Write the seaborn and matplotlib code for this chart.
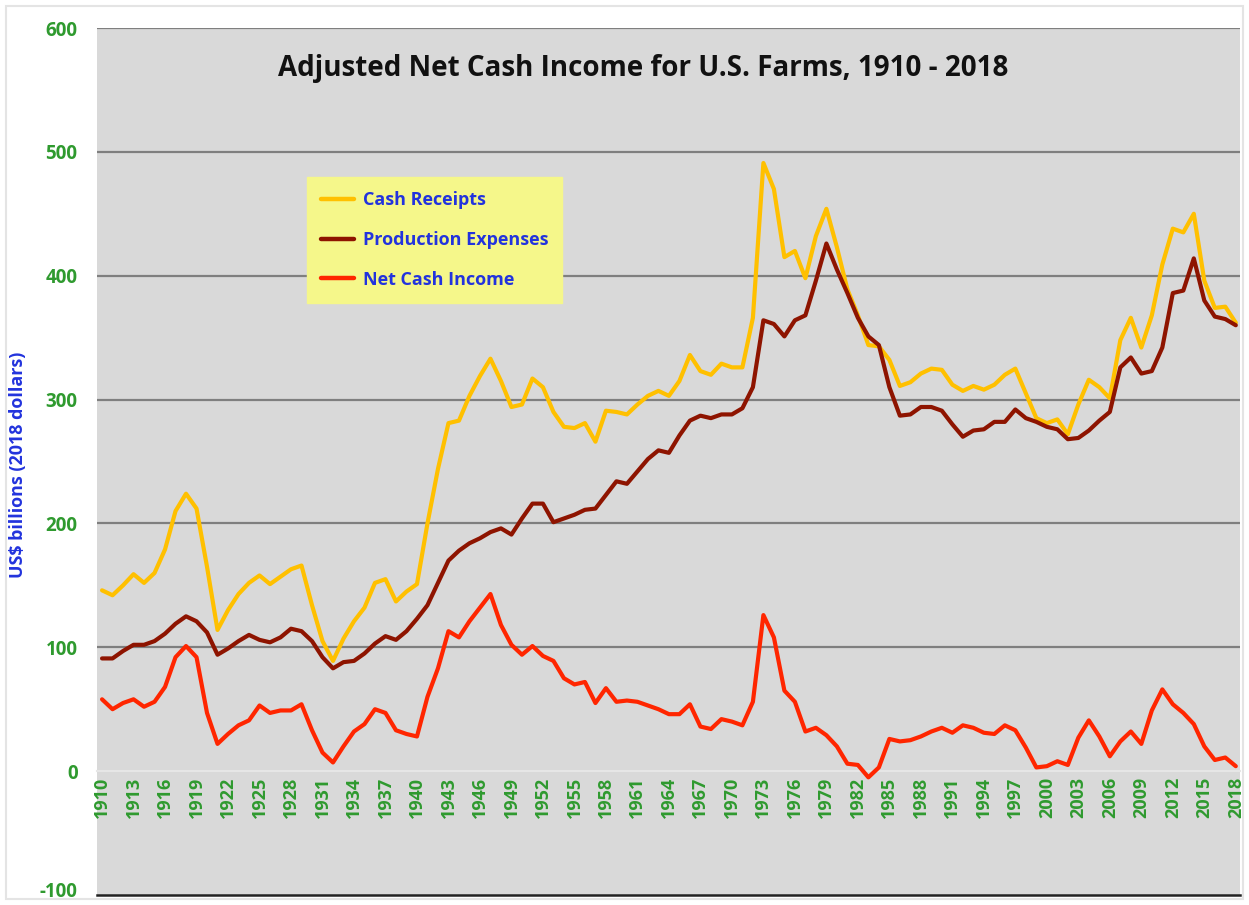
import numpy as np
import pandas as pd
import seaborn as sns
import matplotlib
matplotlib.use("Agg")
import matplotlib.pyplot as plt
import matplotlib.transforms as mtransforms
from matplotlib.lines import Line2D
from matplotlib.patches import Rectangle

years = list(range(1910, 2019))

cash_receipts = [
    146, 142, 150, 159, 152, 160, 179, 210, 224, 212,
    165, 114, 130, 143, 152, 158, 151, 157, 163, 166,
    134, 105, 89, 107, 121, 132, 152, 155, 137, 145,
    151, 200, 244, 281, 283, 303, 319, 333, 315, 294,
    296, 317, 310, 290, 278, 277, 281, 266, 291, 290,
    288, 296, 303, 307, 303, 315, 336, 323, 320, 329,
    326, 326, 366, 491, 470, 415, 420, 398, 432, 454,
    423, 389, 368, 344, 343, 332, 311, 314, 321, 325,
    324, 312, 307, 311, 308, 312, 320, 325, 305, 285,
    281, 284, 272, 296, 316, 310, 301, 348, 366, 342,
    368, 409, 438, 435, 450, 396, 374, 375, 362,
]

production_expenses = [
    91, 91, 97, 102, 102, 105, 111, 119, 125, 121,
    112, 94, 99, 105, 110, 106, 104, 108, 115, 113,
    105, 92, 83, 88, 89, 95, 103, 109, 106, 113,
    123, 134, 152, 170, 178, 184, 188, 193, 196, 191,
    204, 216, 216, 201, 204, 207, 211, 212, 223, 234,
    232, 242, 252, 259, 257, 271, 283, 287, 285, 288,
    288, 293, 310, 364, 361, 351, 364, 368, 396, 426,
    405, 386, 366, 351, 344, 310, 287, 288, 294, 294,
    291, 280, 270, 275, 276, 282, 282, 292, 285, 282,
    278, 276, 268, 269, 275, 283, 290, 326, 334, 321,
    323, 342, 386, 388, 414, 380, 367, 365, 360,
]

net_cash_income = [
    58, 50, 55, 58, 52, 56, 68, 92, 101, 92,
    47, 22, 30, 37, 41, 53, 47, 49, 49, 54,
    33, 15, 7, 20, 32, 38, 50, 47, 33, 30,
    28, 60, 83, 113, 108, 121, 132, 143, 118, 102,
    94, 101, 93, 89, 75, 70, 72, 55, 67, 56,
    57, 56, 53, 50, 46, 46, 54, 36, 34, 42,
    40, 37, 56, 126, 108, 65, 56, 32, 35, 29,
    20, 6, 5, -5, 3, 26, 24, 25, 28, 32,
    35, 31, 37, 35, 31, 30, 37, 33, 19, 3,
    4, 8, 5, 27, 41, 28, 12, 24, 32, 22,
    49, 66, 54, 47, 38, 20, 9, 11, 4,
]

series_names = ["Cash Receipts", "Production Expenses", "Net Cash Income"]
series_colors = ["#FFC000", "#8E1400", "#FF2600"]

y_ticks = [-100, 0, 100, 200, 300, 400, 500, 600]
x_tick_years = list(range(1910, 2019, 3))

df = pd.DataFrame({
    "Year": years * 3,
    "Value": cash_receipts + production_expenses + net_cash_income,
    "Series": [series_names[0]] * len(years)
    + [series_names[1]] * len(years)
    + [series_names[2]] * len(years),
})

sns.set_style("white")
plt.rcParams["font.family"] = ["Open Sans", "DejaVu Sans"]

fig = plt.figure(figsize=(12.49, 9.05), dpi=100)
ax = fig.add_axes([97 / 1249, 10 / 905, 1143 / 1249, 867 / 905])
ax.set_facecolor("#D9D9D9")

# gridlines
for v in [100, 200, 300, 400, 500, 600]:
    ax.axhline(v, color="#7F7F7F", lw=1.6, zorder=1)

sns.lineplot(data=df, x="Year", y="Value", hue="Series",
             palette=dict(zip(series_names, series_colors)),
             linewidth=3.0, ax=ax, legend=False, zorder=3)

ax.set_xlim(1909.52, 2018.4)
ax.set_ylim(-100, 600)
ax.set_xlabel("")
ax.set_ylabel("")

for s in ["top", "right", "left"]:
    ax.spines[s].set_visible(False)
ax.spines["bottom"].set_color("#222222")
ax.spines["bottom"].set_linewidth(1.8)

green = "#2F9A2F"
ax.set_xticks([])
ax.set_yticks(y_ticks)
ax.set_yticklabels([str(t) for t in y_ticks], color=green,
                   fontsize=13.5, fontweight="bold")
ax.tick_params(axis="y", length=0, pad=14)
# nudge the bottom (-100) label up a little so it is not clipped
low_lbl = ax.get_yticklabels()[0]
low_lbl.set_transform(low_lbl.get_transform()
                      + mtransforms.ScaledTranslation(0, 4 / 72, fig.dpi_scale_trans))

# category axis crossing at 0
sec = ax.secondary_xaxis(100 / 700)
sec.spines["bottom"].set_color("#E6E6E6")
sec.spines["bottom"].set_linewidth(1.5)
sec.set_xticks(x_tick_years)
sec.set_xticklabels([str(y) for y in x_tick_years], rotation=90,
                    color=green, fontsize=13, fontweight="bold")
sec.tick_params(axis="x", length=0, pad=4)

# title
ax.text(0.478, 0.953, "Adjusted Net Cash Income for U.S. Farms, 1910 - 2018",
        transform=ax.transAxes, ha="center", va="center",
        fontsize=20, fontweight="bold", color="#111111")

# legend
handles = [Line2D([0], [0], color=c, lw=3.2) for c in series_colors]
leg = ax.legend(handles, series_names, loc="upper left",
                bbox_to_anchor=(0.1837, 0.828), borderaxespad=0,
                frameon=True,
                facecolor="#F5F78A", edgecolor="#F5F78A", framealpha=1,
                fancybox=False, labelcolor="#2233DD",
                prop={"family": ["Open Sans", "DejaVu Sans"],
                      "weight": "bold", "size": 13},
                handlelength=1.85, handletextpad=0.45, labelspacing=1.2,
                borderpad=0.78)
leg.set_zorder(5)

# y label
fig.text(18 / 1249, 1 - 465 / 905, "US$ billions (2018 dollars)",
         rotation=90, ha="center", va="center", color="#2233DD",
         fontsize=12.9, fontweight="bold")

# outer border
fig.patches.append(Rectangle((6 / 1249, 6 / 905), 1 - 12 / 1249, 1 - 12 / 905,
                             transform=fig.transFigure, fill=False,
                             edgecolor="#E4E4E4", lw=1.5, zorder=-5))

fig.savefig("out.png", dpi=100, facecolor="white")
